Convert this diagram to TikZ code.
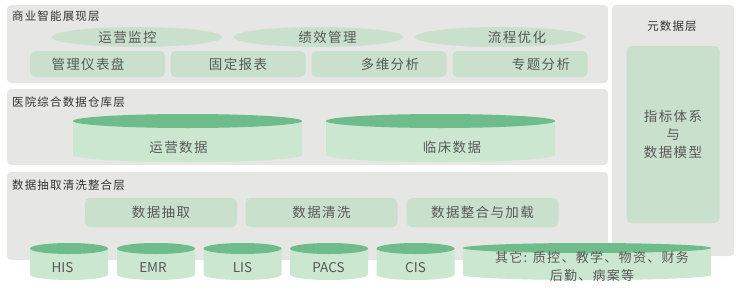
\documentclass[tikz,border=0pt]{standalone}
\usepackage{fontspec}
\setmainfont{Noto Sans CJK SC}[LetterSpace=10]
\newfontfamily\latinfont{Noto Sans CJK SC}
\usetikzlibrary{shapes.geometric}

\definecolor{panelgray}{HTML}{E6E6E4}
\definecolor{palegreen}{HTML}{C8E0CC}
\definecolor{cylgreen}{HTML}{CCE7D0}
\definecolor{topgreen}{HTML}{6DBC8A}
\definecolor{txtgray}{HTML}{585858}

% cylinder: center x, top y, half width, y radius, bottom y
\newcommand{\dbcyl}[5]{%
  \fill[cylgreen] (#1-#3,#2) -- (#1-#3,#5-#4)
    arc[start angle=180,end angle=0,x radius=#3,y radius=#4] -- (#1+#3,#2) -- cycle;
  \fill[topgreen] (#1,#2) ellipse[x radius=#3,y radius=#4];
}
% text pushed right (positive) or left (negative) inside its node
\newcommand{\offtxt}[2]{\ifdim#1pt>0pt\hspace*{#1pt}\hspace*{#1pt}#2\else#2\hspace*{-#1pt}\hspace*{-#1pt}\fi}

\tikzset{
  panel/.style={fill=panelgray, rounded corners=4pt},
  layertitle/.style={anchor=west, inner sep=2pt, text=black!80, font=\fontsize{11.5}{13}\selectfont},
  greenbox/.style={fill=palegreen, rounded corners=5pt, inner sep=0pt, text=txtgray,
    font=\fontsize{13.5}{16}\selectfont},
  greenoval/.style={ellipse, fill=palegreen, minimum width=170pt, minimum height=20pt,
    inner sep=0pt, text=txtgray, font=\fontsize{13.5}{16}\selectfont},
  cyltext/.style={inner sep=0pt, text=txtgray, font=\fontsize{13.5}{16}\selectfont},
  systext/.style={cyltext, font=\latinfont\fontsize{13.5}{16}\selectfont}
}

\begin{document}
\begin{tikzpicture}[x=1pt, y=-1pt]
  \useasboundingbox (0,0) rectangle (744,295);

  % panels
  \fill[panel] (7,5) rectangle (608,83);
  \fill[panel] (7,89) rectangle (608,165);
  \fill[panel] (7,172) rectangle (608,260);
  \fill[panel] (612,5) rectangle (734,256);

  % BI layer
  \node[layertitle] (bititle) at (10,16) {商业智能展现层};
  \node[greenoval] (monitor) at (137,37) {\offtxt{-9.5}{运营监控}};
  \node[greenoval] (perf) at (318.5,37) {\offtxt{9}{绩效管理}};
  \node[greenoval] (flow) at (500,37) {\offtxt{17}{流程优化}};
  \node[greenbox, minimum width=135pt, minimum height=26pt] (dash) at (97.5,64) {\offtxt{-9.5}{管理仪表盘}};
  \node[greenbox, minimum width=135pt, minimum height=26pt] (report) at (238,64) {固定报表};
  \node[greenbox, minimum width=135pt, minimum height=26pt] (multi) at (379,64) {\offtxt{11}{多维分析}};
  \node[greenbox, minimum width=135pt, minimum height=26pt] (topic) at (520,64) {\offtxt{21}{专题分析}};

  % warehouse layer
  \node[layertitle] (dwtitle) at (10,102) {医院综合数据仓库层};
  \dbcyl{187.5}{121}{114.5}{7}{162}
  \dbcyl{440.5}{121}{114.5}{7}{162}
  \node[cyltext] (opdata) at (178.5,147) {运营数据};
  \node[cyltext] (clindata) at (452,147) {临床数据};

  % ETL layer
  \node[layertitle] (etltitle) at (10,185) {数据抽取清洗整合层};
  \node[greenbox, minimum width=152pt, minimum height=29pt] (extract) at (161,212.5) {数据抽取};
  \node[greenbox, minimum width=152pt, minimum height=29pt] (clean) at (321.5,212.5) {数据清洗};
  \node[greenbox, minimum width=152pt, minimum height=29pt] (load) at (482.5,212.5) {数据整合与加载};

  % metadata
  \node[layertitle, anchor=center] (metatitle) at (672,26) {元数据层};
  \node[greenbox, minimum width=93pt, minimum height=177pt, align=center,
    font=\fontsize{13.5}{18}\selectfont] (model) at (673,134.5) {指标体系\\与\\数据模型};

  % source systems
  \dbcyl{69}{248.5}{39}{5.5}{280}
  \dbcyl{156}{248.5}{39}{5.5}{280}
  \dbcyl{242.5}{248.5}{39}{5.5}{280}
  \dbcyl{329}{248.5}{39}{5.5}{280}
  \dbcyl{415.5}{248.5}{39}{5.5}{280}
  \dbcyl{587}{248}{124}{5}{280}
  \node[systext] (his) at (62.5,268) {HIS};
  \node[systext] (emr) at (153,268) {EMR};
  \node[systext] (lis) at (242.5,268) {LIS};
  \node[systext] (pacs) at (328.5,268) {PACS};
  \node[systext] (cis) at (415.5,268) {CIS};
  \node[cyltext, align=center, font=\fontsize{13}{18}\selectfont] (others) at (592,267)
    {其它: 质控、教学、物资、财务\\后勤、病案等};
\end{tikzpicture}
\end{document}
